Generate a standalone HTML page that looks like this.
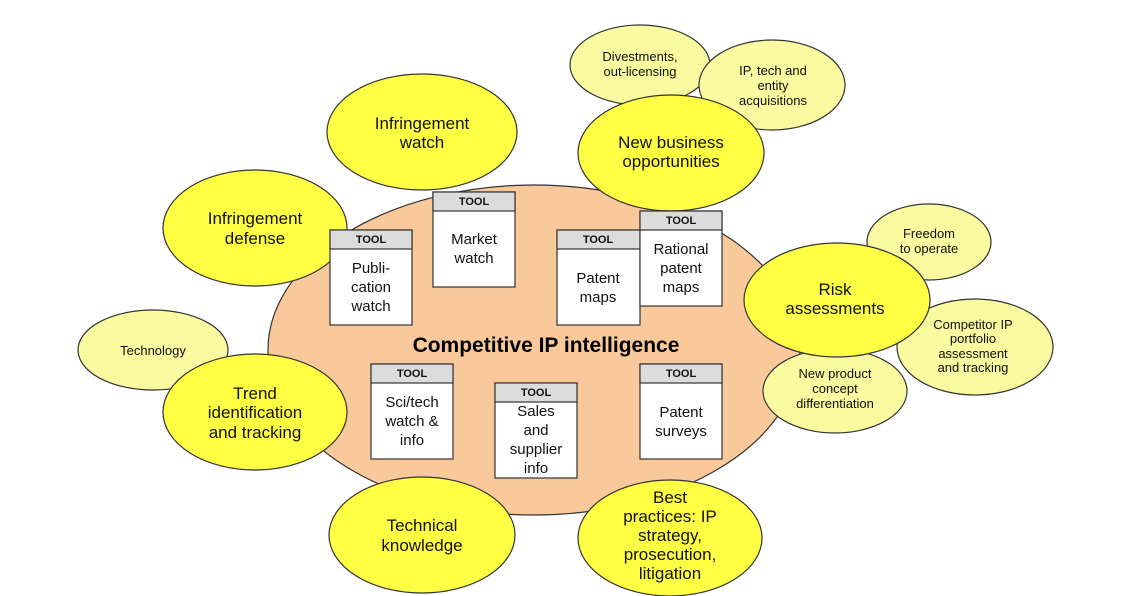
<!DOCTYPE html>
<html><head><style>
html,body{margin:0;padding:0;background:#fff;}
svg{display:block;font-family:"Liberation Sans",Arial,sans-serif;}
</style></head><body>
<svg width="1122" height="596" viewBox="0 0 1122 596" xmlns="http://www.w3.org/2000/svg">
<g stroke="#333" stroke-width="1.2">
<ellipse cx="534" cy="350" rx="266" ry="165" fill="#fac99b"/>
<!-- small pale ellipses -->
<ellipse cx="640" cy="65" rx="70" ry="40" fill="#fafaa0"/>
<ellipse cx="772" cy="85" rx="73" ry="45" fill="#fafaa0"/>
<ellipse cx="929" cy="242" rx="62" ry="38" fill="#fafaa0"/>
<ellipse cx="975" cy="347" rx="78" ry="48" fill="#fafaa0"/>
<ellipse cx="835" cy="391" rx="72" ry="42" fill="#fafaa0"/>
<ellipse cx="153" cy="350" rx="75" ry="40" fill="#fafaa0"/>
<!-- big yellow ellipses -->
<ellipse cx="422" cy="132" rx="95" ry="58" fill="#ffff44"/>
<ellipse cx="671" cy="153" rx="93" ry="58" fill="#ffff44"/>
<ellipse cx="255" cy="228" rx="92" ry="58" fill="#ffff44"/>
<ellipse cx="837" cy="300" rx="93" ry="57" fill="#ffff44"/>
<ellipse cx="255" cy="412" rx="92" ry="58" fill="#ffff44"/>
<ellipse cx="422" cy="535" rx="93" ry="58" fill="#ffff44"/>
<ellipse cx="670" cy="538" rx="92" ry="58" fill="#ffff44"/>
</g>
<g font-size="13" text-anchor="middle" fill="#111">
<text x="640" y="61">Divestments,</text><text x="640" y="76">out-licensing</text>
<text x="773" y="75">IP, tech and</text><text x="773" y="90">entity</text><text x="773" y="105">acquisitions</text>
<text x="929" y="238">Freedom</text><text x="929" y="253">to operate</text>
<text x="973" y="329">Competitor IP</text><text x="973" y="343">portfolio</text><text x="973" y="358">assessment</text><text x="973" y="372">and tracking</text>
<text x="835" y="378">New product</text><text x="835" y="393">concept</text><text x="835" y="408">differentiation</text>
<text x="153" y="355">Technology</text>
</g>
<g font-size="17" text-anchor="middle" fill="#111">
<text x="422" y="129">Infringement</text><text x="422" y="148">watch</text>
<text x="671" y="148">New business</text><text x="671" y="167">opportunities</text>
<text x="255" y="224">Infringement</text><text x="255" y="244">defense</text>
<text x="835" y="295">Risk</text><text x="835" y="314">assessments</text>
<text x="255" y="399">Trend</text><text x="255" y="418">identification</text><text x="255" y="438">and tracking</text>
<text x="422" y="531">Technical</text><text x="422" y="551">knowledge</text>
<text x="670" y="503">Best</text><text x="670" y="522">practices: IP</text><text x="670" y="541">strategy,</text><text x="670" y="560">prosecution,</text><text x="670" y="579">litigation</text>
</g>
<text x="546" y="352" font-size="21" font-weight="bold" text-anchor="middle" fill="#000">Competitive IP intelligence</text>
<!-- tools -->
<g stroke="#333" stroke-width="1.2">
<rect x="330" y="230" width="82" height="95" fill="#fff"/><rect x="330" y="230" width="82" height="19" fill="#dcdcdc"/>
<rect x="433" y="192" width="82" height="95" fill="#fff"/><rect x="433" y="192" width="82" height="19" fill="#dcdcdc"/>
<rect x="557" y="230" width="83" height="95" fill="#fff"/><rect x="557" y="230" width="83" height="19" fill="#dcdcdc"/>
<rect x="640" y="211" width="82" height="95" fill="#fff"/><rect x="640" y="211" width="82" height="19" fill="#dcdcdc"/>
<rect x="371" y="364" width="82" height="95" fill="#fff"/><rect x="371" y="364" width="82" height="19" fill="#dcdcdc"/>
<rect x="495" y="383" width="82" height="95" fill="#fff"/><rect x="495" y="383" width="82" height="19" fill="#dcdcdc"/>
<rect x="640" y="364" width="82" height="95" fill="#fff"/><rect x="640" y="364" width="82" height="19" fill="#dcdcdc"/>
</g>
<g font-size="11" font-weight="bold" text-anchor="middle" fill="#111">
<text x="371" y="243">TOOL</text><text x="474" y="205">TOOL</text><text x="598" y="243">TOOL</text><text x="681" y="224">TOOL</text>
<text x="412" y="377">TOOL</text><text x="536" y="396">TOOL</text><text x="681" y="377">TOOL</text>
</g>
<g font-size="15" text-anchor="middle" fill="#111">
<text x="371" y="273">Publi-</text><text x="371" y="292">cation</text><text x="371" y="311">watch</text>
<text x="474" y="244">Market</text><text x="474" y="263">watch</text>
<text x="598" y="283">Patent</text><text x="598" y="302">maps</text>
<text x="681" y="254">Rational</text><text x="681" y="273">patent</text><text x="681" y="292">maps</text>
<text x="412" y="407">Sci/tech</text><text x="412" y="426">watch &amp;</text><text x="412" y="445">info</text>
<text x="536" y="416">Sales</text><text x="536" y="435">and</text><text x="536" y="454">supplier</text><text x="536" y="473">info</text>
<text x="681" y="417">Patent</text><text x="681" y="436">surveys</text>
</g>
</svg>
</body></html>
